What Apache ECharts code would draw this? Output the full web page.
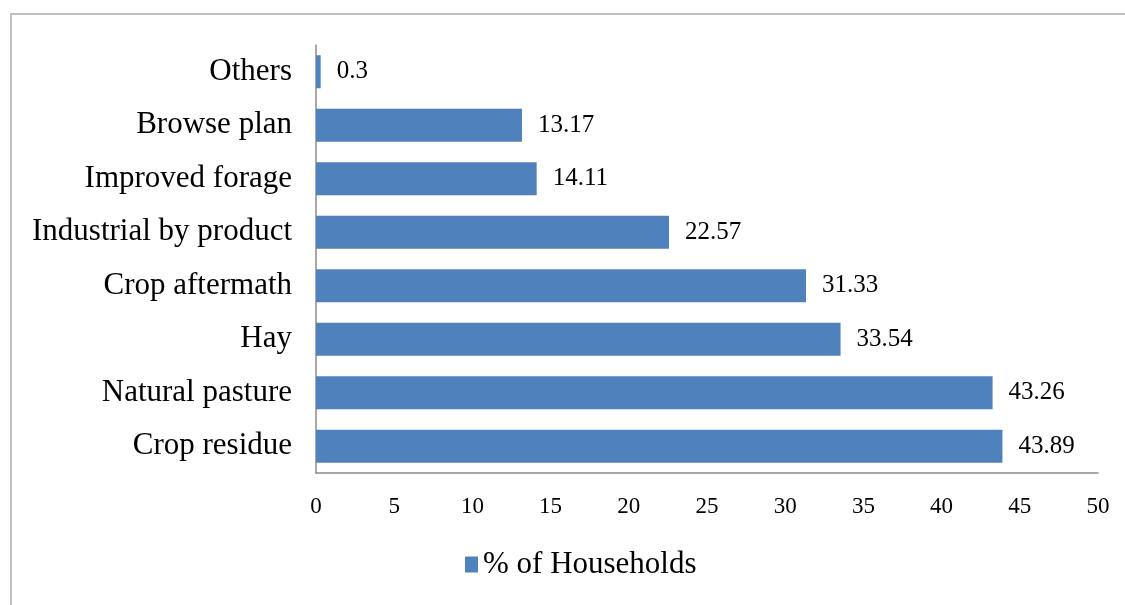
<!DOCTYPE html>
<html>
<head>
<meta charset="utf-8">
<script src="https://cdn.jsdelivr.net/npm/echarts@6/dist/echarts.min.js"></script>
<style>
  html, body { margin: 0; padding: 0; background: #fff; }
  #frame { position: absolute; left: 10px; top: 13px; width: 1125px; height: 600px;
           border-top: 2px solid #c0c0c0; border-left: 2px solid #c0c0c0; }
  #chart { position: absolute; left: 0; top: 0; width: 1125px; height: 605px; }
</style>
</head>
<body>
<div id="frame"></div>
<div id="chart"></div>
<script>
// feed sources, bottom to top as drawn
const categories = ['Crop residue', 'Natural pasture', 'Hay', 'Crop aftermath',
  'Industrial by product', 'Improved forage', 'Browse plan', 'Others']
const households = [43.89, 43.26, 33.54, 31.33, 22.57, 14.11, 13.17, 0.3]
const seriesName = '% of Households'

const font = '"Liberation Serif", "Times New Roman", serif'

const chart = echarts.init(document.getElementById('chart'))
chart.setOption({
  animation: false,
  textStyle: { fontFamily: font },
  grid: { left: 316, right: 27, top: 45, bottom: 132 },
  legend: {
    data: [seriesName],
    bottom: 20,
    left: 460,
    icon: 'rect',
    itemWidth: 13,
    itemHeight: 16,
    itemGap: 10,
    textStyle: { fontFamily: font, fontSize: 31, color: '#000' }
  },
  xAxis: {
    type: 'value',
    min: 0,
    max: 50,
    interval: 5,
    splitLine: { show: false },
    axisTick: { show: false },
    axisLine: { show: true, lineStyle: { color: '#8c8c8c', width: 1.5 } },
    axisLabel: { fontFamily: font, fontSize: 23, color: '#000', margin: 22 }
  },
  yAxis: {
    type: 'category',
    data: categories,
    axisTick: { show: false },
    axisLine: { show: true, lineStyle: { color: '#8c8c8c', width: 1.5 } },
    axisLabel: { fontFamily: font, fontSize: 31, color: '#000', margin: 24 }
  },
  series: [{
    name: seriesName,
    type: 'bar',
    data: households,
    barWidth: 33,
    itemStyle: { color: '#4f81bd' },
    label: {
      show: true,
      position: 'right',
      distance: 16,
      fontFamily: font,
      fontSize: 25,
      color: '#000'
    }
  }]
})
</script>
</body>
</html>
